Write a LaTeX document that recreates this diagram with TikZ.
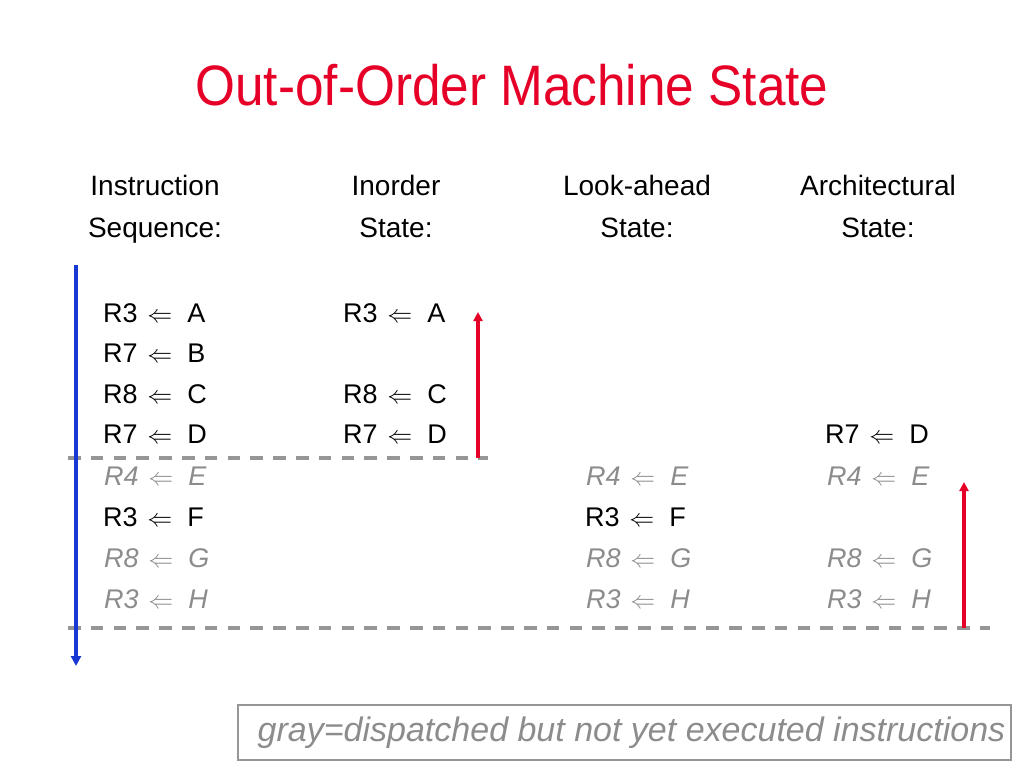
\documentclass[tikz,border=0pt]{standalone}
\usepackage{fontspec}
\setmainfont{Liberation Sans}
\usetikzlibrary{arrows.meta}
\definecolor{titlered}{RGB}{230,0,40}
\definecolor{arrred}{RGB}{230,0,40}
\definecolor{arrblue}{RGB}{25,55,210}
\definecolor{dashgray}{RGB}{150,150,150}
\definecolor{txtgray}{RGB}{140,140,140}
\tikzset{
  hdr/.style={anchor=base,inner sep=0pt,font=\fontsize{28}{34}\selectfont},
  ent/.style={anchor=base west,inner sep=0pt,font=\fontsize{27}{32}\selectfont},
  gent/.style={ent,text=txtgray,font=\fontsize{27}{32}\selectfont\itshape},
  sep/.style={draw=dashgray,line width=3.2pt,dash pattern=on 12.5pt off 10.3pt},
  redarr/.style={draw=arrred,line width=3.2pt,-{Triangle[length=9pt,width=9pt]}},
  bluearr/.style={draw=arrblue,line width=3.2pt,-{Triangle[length=10pt,width=10pt]}}
}
\begin{document}
\begin{tikzpicture}[x=1pt,y=-1pt]
\useasboundingbox (0,0) rectangle (1024,768);
% title
\node[anchor=base,inner sep=0pt,text=titlered,xscale=0.9,font=\fontsize{57}{64}\selectfont] (title) at (512,105) {Out-of-Order Machine State};
% headers
\node[hdr] (h1a) at (155,195) {Instruction};
\node[hdr] (h1b) at (155,237) {Sequence:};
\node[hdr] (h2a) at (396,195) {Inorder};
\node[hdr] (h2b) at (396,237) {State:};
\node[hdr] (h3a) at (637,195) {Look-ahead};
\node[hdr] (h3b) at (637,237) {State:};
\node[hdr] (h4a) at (878,195) {Architectural};
\node[hdr] (h4b) at (878,237) {State:};
% column 1
\node[ent] (a1) at (103,322) {R3\hspace{0.08em} $\Leftarrow$\ \ A};
\node[ent] (b1) at (103,362) {R7\hspace{0.08em} $\Leftarrow$\ \ B};
\node[ent] (c1) at (103,403) {R8\hspace{0.08em} $\Leftarrow$\ \ C};
\node[ent] (d1) at (103,443) {R7\hspace{0.08em} $\Leftarrow$\ \ D};
\node[gent] (e1) at (104,485) {R4\hspace{0.08em} $\Leftarrow$\ \ E};
\node[ent] (f1) at (103,526) {R3\hspace{0.08em} $\Leftarrow$\ \ F};
\node[gent] (g1) at (104,567) {R8\hspace{0.08em} $\Leftarrow$\ \ G};
\node[gent] (k1) at (104,608) {R3\hspace{0.08em} $\Leftarrow$\ \ H};
% column 2
\node[ent] (a2) at (343,322) {R3\hspace{0.08em} $\Leftarrow$\ \ A};
\node[ent] (c2) at (343,403) {R8\hspace{0.08em} $\Leftarrow$\ \ C};
\node[ent] (d2) at (343,443) {R7\hspace{0.08em} $\Leftarrow$\ \ D};
% column 3
\node[gent] (e3) at (586,485) {R4\hspace{0.08em} $\Leftarrow$\ \ E};
\node[ent] (f3) at (585,526) {R3\hspace{0.08em} $\Leftarrow$\ \ F};
\node[gent] (g3) at (586,567) {R8\hspace{0.08em} $\Leftarrow$\ \ G};
\node[gent] (k3) at (586,608) {R3\hspace{0.08em} $\Leftarrow$\ \ H};
% column 4
\node[ent] (d4) at (825,443) {R7\hspace{0.08em} $\Leftarrow$\ \ D};
\node[gent] (e4) at (827,485) {R4\hspace{0.08em} $\Leftarrow$\ \ E};
\node[gent] (g4) at (827,567) {R8\hspace{0.08em} $\Leftarrow$\ \ G};
\node[gent] (k4) at (827,608) {R3\hspace{0.08em} $\Leftarrow$\ \ H};
% separators
\coordinate (s1a) at (68,458);
\coordinate (s1b) at (488,458);
\coordinate (s2a) at (68,628);
\coordinate (s2b) at (990,628);
\draw[sep] (s1a) -- (s1b);
\draw[sep] (s2a) -- (s2b);
% arrows
\coordinate (bt) at (76,265);
\coordinate (bb) at (76,666);
\draw[bluearr] (bt) -- (bb);
\coordinate (r1b) at (478,458);
\coordinate (r1t) at (478,312);
\draw[redarr] (r1b) -- (r1t);
\coordinate (r2b) at (964,628);
\coordinate (r2t) at (964,482);
\draw[redarr] (r2b) -- (r2t);
% footer
\node[draw=dashgray,line width=2pt,minimum width=773pt,minimum height=55pt,inner sep=0pt,text=txtgray,font=\fontsize{34}{40}\selectfont\itshape] (note) at (624.5,732.5) {\hspace{14pt}gray=dispatched but not yet executed instructions};
\end{tikzpicture}
\end{document}
